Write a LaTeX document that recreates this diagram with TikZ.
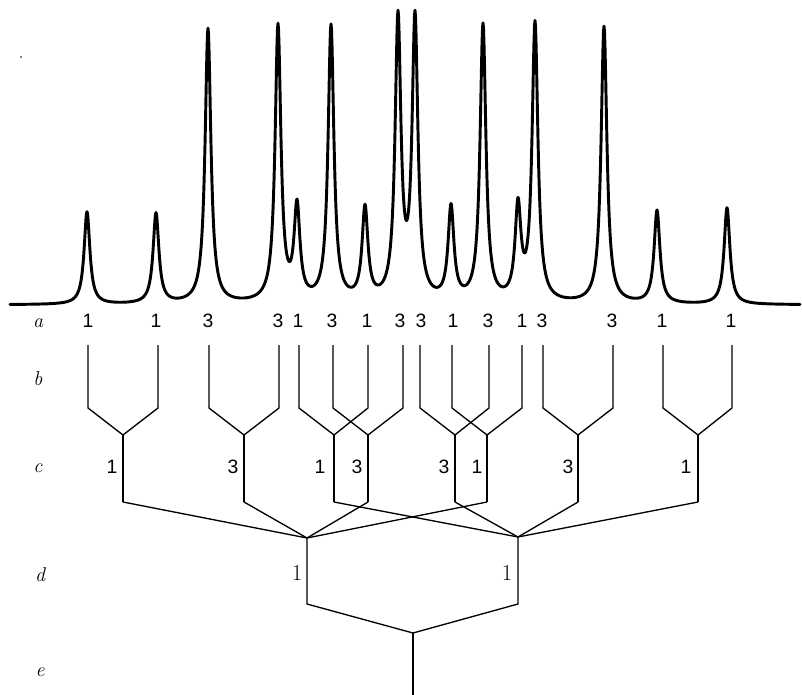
\documentclass[tikz,border=0pt]{standalone}
\usepackage{fontspec}
\newfontfamily\numfont{Liberation Sans}
\begin{document}
\begin{tikzpicture}[x=0.75pt,y=-0.75pt,
  declare function={
    LZ(\xq,\pq,\hq)=\hq/(1+(min(abs(\xq-\pq)/3.5,120))^2);
    SP(\xq)=LZ(\xq,87,92.5)+LZ(\xq,156,90.4)+LZ(\xq,208,275)+LZ(\xq,278,276)
      +LZ(\xq,297,92.5)+LZ(\xq,331,276)+LZ(\xq,365,92)+LZ(\xq,398,280)
      +LZ(\xq,415,280)+LZ(\xq,451,93)+LZ(\xq,483,277)+LZ(\xq,518,92)
      +LZ(\xq,535,278)+LZ(\xq,604,277)+LZ(\xq,657,93)+LZ(\xq,727,96.5);
  },
  spec/.style={line width=2.2pt,line join=round,line cap=round},
  tree/.style={line width=1pt,line join=miter},
  numlab/.style={font=\numfont\fontsize{14.5}{14.5}\selectfont,inner sep=0pt},
  rowlab/.style={font=\fontsize{15}{15}\selectfont\itshape,inner sep=0pt},
  dlab/.style={font=\fontsize{17}{17}\selectfont,inner sep=0pt}]
\useasboundingbox (0,0) rectangle (802,695);

% spectrum
\draw[spec] plot[domain=10:800,samples=1581] (\x,{305-SP(\x)});
\fill (21,57) circle (0.8);

% row letters
\node[rowlab] (la) at (38,323) {a};
\node[rowlab] (lb) at (38,379) {b};
\node[rowlab] (lc) at (38,468) {c};
\node[rowlab] (ld) at (40,575) {d};
\node[rowlab] (le) at (40,672) {e};

% level a labels
\foreach \n/\lx/\v in {1/88/1,2/156/1,3/208/3,4/278/3,5/298/1,6/332/3,7/367/1,8/400/3,
  9/421/3,10/453/1,11/488/3,12/522/1,13/542/3,14/612/3,15/662/1,16/731/1}
  \node[numlab] (na\n) at (\lx,321) {\v};

% tree lines, level b
\foreach \n/\lx in {1/88,2/158,3/209,4/279,5/299,6/333,7/368,8/403,
  9/420,10/452,11/489,12/522,13/543,14/613,15/663,16/732}{
  \coordinate (t\n) at (\lx,345);
  \coordinate (k\n) at (\lx,408);
}
% joins, level c
\foreach \n/\lx in {1/123,2/244,3/334,4/368,5/455,6/487,7/578,8/698}{
  \coordinate (j\n) at (\lx,435);
  \coordinate (s\n) at (\lx,502);
}
\coordinate (v1) at (307,538);
\coordinate (v2) at (518,537);
\coordinate (w1) at (307,604);
\coordinate (w2) at (518,604);
\coordinate (e0) at (413,633);
\coordinate (e1) at (413,695);

\draw[tree] (t1)--(k1)--(j1)--(k2)--(t2);
\draw[tree] (t3)--(k3)--(j2)--(k4)--(t4);
\draw[tree] (t5)--(k5)--(j3)--(k7)--(t7);
\draw[tree] (t6)--(k6)--(j4)--(k8)--(t8);
\draw[tree] (t9)--(k9)--(j5)--(k11)--(t11);
\draw[tree] (t10)--(k10)--(j6)--(k12)--(t12);
\draw[tree] (t13)--(k13)--(j7)--(k14)--(t14);
\draw[tree] (t15)--(k15)--(j8)--(k16)--(t16);

\foreach \n in {1,...,8} \draw[tree] (j\n)--(s\n);
\foreach \n in {1,2,4,6} \draw[tree] (s\n)--(v1);
\foreach \n in {3,5,7,8} \draw[tree] (s\n)--(v2);
\draw[tree] (v1)--(w1)--(e0)--(w2)--(v2);
\draw[tree] (e0)--(e1);

% level c labels
\foreach \n/\lx/\v in {1/112/1,2/233/3,3/320/1,4/357/3,5/444/3,6/477/1,7/568/3,8/686/1}
  \node[numlab] (nc\n) at (\lx,467) {\v};

% level d labels
\node[dlab] (nd1) at (297,573) {1};
\node[dlab] (nd2) at (507,573) {1};
\end{tikzpicture}
\end{document}
